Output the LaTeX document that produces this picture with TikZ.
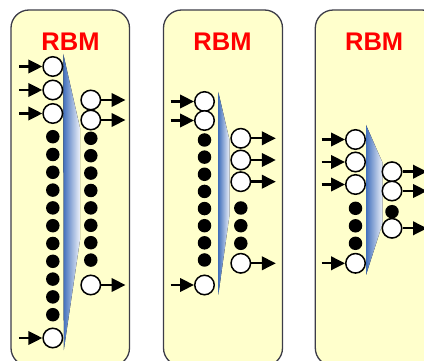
\documentclass[tikz,border=0pt]{standalone}
\usepackage{fontspec}
\setmainfont{Liberation Sans}
\usetikzlibrary{arrows.meta}
\definecolor{panelfill}{RGB}{255,255,204}
\definecolor{panelline}{RGB}{60,60,72}
\definecolor{sheetblue}{RGB}{66,112,188}
\definecolor{sheetpale}{RGB}{238,242,250}
\tikzset{
  panel/.style={draw=panelline, fill=panelfill, line width=1.3pt, rounded corners=18pt},
  title/.style={text=red, font=\bfseries\fontsize{25.5}{25.5}\selectfont, inner sep=0pt},
  unit/.style={circle, draw=black, fill=white, line width=1.5pt, minimum size=19.5pt, inner sep=0pt},
  dot/.style={circle, fill=black, minimum size=13.5pt, inner sep=0pt},
  feed/.style={line width=2.4pt, -{Triangle[length=14pt,width=13.5pt]}},
  sheet/.style={left color=sheetblue, right color=sheetpale, draw=none},
}
\begin{document}
\begin{tikzpicture}[x=1pt, y=-1pt]
\useasboundingbox (0,0) rectangle (424,361);
\clip (0,0) rectangle (424,361);

% three RBM panels
\draw[panel] (11,10) rectangle (129.5,366);
\draw[panel] (163.5,10) rectangle (282.5,366);
\draw[panel] (315.3,10) rectangle (440,366);
\node[title] (t1) at (70.5,42) {RBM};
\node[title] (t2) at (222.5,42) {RBM};
\node[title] (t3) at (374.2,42) {RBM};

% weight sheets between the layers
\fill[sheet] (63.3,54) -- (80,128) -- (80,240) -- (63.8,350) -- cycle;
\fill[sheet] (218.3,92) -- (229.5,140) -- (229.5,215) -- (218.3,295) -- cycle;
\fill[sheet] (366,125) -- (382.7,163) -- (382.7,223) -- (366,275) -- cycle;

% ---- first RBM ----
\foreach \y [count=\i] in {66.5,90,113.5,338} {
  \node[unit] (p1v\i) at (52.8,\y) {};
  \coordinate (p1s\i) at (19,\y);
  \draw[feed] (p1s\i) -- (p1v\i);
}
\foreach \k in {0,...,10}
  \node[dot] (p1d\k) at (52.8,{136.7+17.8*\k}) {};
\foreach \y [count=\i] in {100,120,285} {
  \node[unit] (p1h\i) at (90.8,\y) {};
  \coordinate (p1t\i) at (125.5,\y);
  \draw[feed] (p1h\i) -- (p1t\i);
}
\foreach \k in {0,...,7}
  \node[dot] (p1e\k) at (90.8,{138.3+17.4*\k}) {};

% ---- second RBM ----
\foreach \y [count=\i] in {101.5,120.5,285} {
  \node[unit] (p2v\i) at (204.5,\y) {};
  \coordinate (p2s\i) at (170.5,\y);
  \draw[feed] (p2s\i) -- (p2v\i);
}
\foreach \k in {0,...,7}
  \node[dot] (p2d\k) at (204.5,{140+17.14*\k}) {};
\foreach \y [count=\i] in {138.3,160,181.7,263.3} {
  \node[unit] (p2h\i) at (240.8,\y) {};
  \coordinate (p2t\i) at (275.8,\y);
  \draw[feed] (p2h\i) -- (p2t\i);
}
\foreach \y [count=\k] in {208,225.7,243.3}
  \node[dot] (p2e\k) at (240.8,\y) {};

% ---- third RBM ----
\foreach \y [count=\i] in {139.5,162,184.5,263.3} {
  \node[unit] (p3v\i) at (355.5,\y) {};
  \coordinate (p3s\i) at (321.5,\y);
  \draw[feed] (p3s\i) -- (p3v\i);
}
\foreach \y [count=\k] in {208.3,225.8,243.3}
  \node[dot] (p3d\k) at (355.5,\y) {};
\foreach \y [count=\i] in {171.7,191,228.3} {
  \node[unit] (p3h\i) at (392,\y) {};
  \coordinate (p3t\i) at (427,\y);
  \draw[feed] (p3h\i) -- (p3t\i);
}
\node[dot] (p3e1) at (392,211.7) {};
\end{tikzpicture}
\end{document}
